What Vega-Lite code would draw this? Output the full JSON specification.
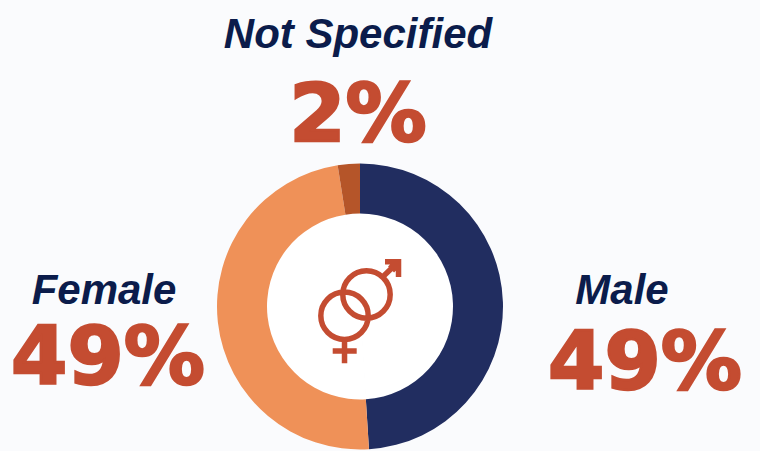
{
"$schema":"https://vega.github.io/schema/vega-lite/v6.json",
"width":720,"height":289,
"autosize":{"type":"none"},
"padding":{"left":0,"top":162,"right":40,"bottom":0},
"background":"#FAFBFD",
"config":{"view":{"stroke":null}},
"data":{"values":[
{"segment":"Male","share":49,"label":"49%","rank":1},
{"segment":"Female","share":48.5,"label":"49%","rank":2},
{"segment":"Not Specified","share":2.5,"label":"2%","rank":3}
]},
"layer":[
{"mark":{"type":"arc","radius":93,"radius2":0,"color":"#FFFFFF","stroke":"#FFFFFF"},
 "encoding":{"theta":{"field":"share","type":"quantitative","stack":true},"order":{"field":"rank","type":"ordinal"}}},
{"mark":{"type":"arc","radius":143,"radius2":93},
 "encoding":{"theta":{"field":"share","type":"quantitative","stack":true},"order":{"field":"rank","type":"ordinal"},
 "color":{"field":"segment","type":"nominal","legend":null,"scale":{"domain":["Male","Female","Not Specified"],"range":["#212D60","#EF9158","#B55529"]}}}},
{"transform":[{"filter":"datum.segment === 'Male'"}],
 "mark":{"type":"point","filled":false,"size":14400,"stroke":"#C44C31","strokeWidth":5.5,"opacity":1,
 "shape":"M -0.287 -0.2 A 0.395 0.395 0 1 1 0.503 -0.2 A 0.395 0.395 0 1 1 -0.287 -0.2 Z M -0.653 0.155 A 0.395 0.395 0 1 1 0.137 0.155 A 0.395 0.395 0 1 1 -0.653 0.155 Z M -0.258 0.583 L -0.258 0.945 M -0.455 0.742 L -0.055 0.742 M 0.385 -0.5 L 0.64 -0.745 M 0.417 -0.745 L 0.642 -0.745 L 0.642 -0.492 M 0.5 -0.7 L 0.6 -0.6"},
 "encoding":{}},
{"transform":[{"filter":"datum.segment !== 'Not Specified'"}],
 "mark":{"type":"text","font":"Liberation Sans","fontWeight":"bold","fontStyle":"italic","fontSize":42,"color":"#0B1C4B","baseline":"alphabetic","align":"center"},
 "encoding":{"text":{"field":"segment"},
 "x":{"field":"segment","type":"nominal","axis":null,"scale":{"type":"point","domain":["Female","Male"],"range":[104,622],"padding":0}},
 "y":{"field":"segment","type":"nominal","axis":null,"scale":{"type":"point","domain":["Female","Male"],"range":[142,142],"padding":0}}}},
{"transform":[{"filter":"datum.segment !== 'Not Specified'"}],
 "mark":{"type":"text","font":"DejaVu Sans","fontWeight":"bold","fontSize":81,"color":"#C44C31","stroke":"#C44C31","strokeWidth":2.5,"baseline":"alphabetic","align":"center"},
 "encoding":{"text":{"field":"label"},
 "x":{"field":"segment","type":"nominal","axis":null,"scale":{"type":"point","domain":["Female","Male"],"range":[108,645],"padding":0}},
 "y":{"field":"segment","type":"nominal","axis":null,"scale":{"type":"point","domain":["Female","Male"],"range":[222,227],"padding":0}}}},
{"transform":[{"filter":"datum.segment === 'Not Specified'"}],
 "mark":{"type":"text","font":"Liberation Sans","fontWeight":"bold","fontStyle":"italic","fontSize":42,"color":"#0B1C4B","baseline":"alphabetic","align":"center"},
 "encoding":{"text":{"field":"segment"},
 "x":{"field":"segment","type":"nominal","axis":null,"scale":{"type":"point","domain":["Not Specified"],"range":[358,358],"padding":0}},
 "y":{"field":"segment","type":"nominal","axis":null,"scale":{"type":"point","domain":["Not Specified"],"range":[-114,-114],"padding":0}}}},
{"transform":[{"filter":"datum.segment === 'Not Specified'"}],
 "mark":{"type":"text","font":"DejaVu Sans","fontWeight":"bold","fontSize":81,"color":"#C44C31","stroke":"#C44C31","strokeWidth":2.5,"baseline":"alphabetic","align":"center"},
 "encoding":{"text":{"field":"label"},
 "x":{"field":"segment","type":"nominal","axis":null,"scale":{"type":"point","domain":["Not Specified"],"range":[358,358],"padding":0}},
 "y":{"field":"segment","type":"nominal","axis":null,"scale":{"type":"point","domain":["Not Specified"],"range":[-21,-21],"padding":0}}}}
],
"resolve":{"scale":{"x":"independent","y":"independent"}}
}
